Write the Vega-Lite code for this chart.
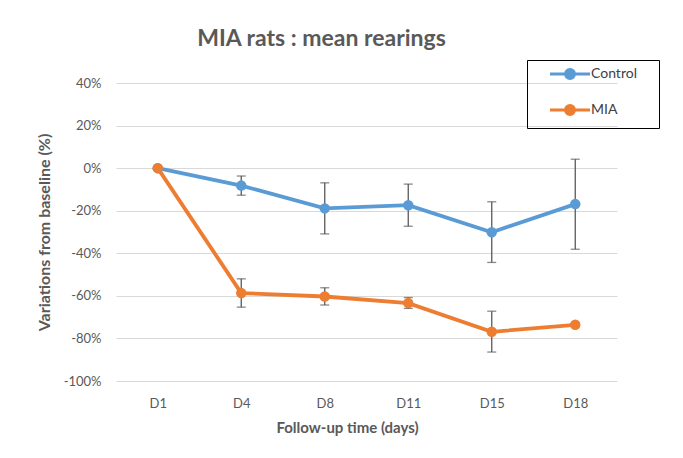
{
  "$schema": "https://vega.github.io/schema/vega-lite/v6.json",
  "width": 501,
  "height": 298,
  "autosize": {"type": "none"},
  "padding": {"left": 116, "top": 83, "right": 66, "bottom": 77},
  "background": "white",
  "config": {
    "font": "Lato",
    "view": {"stroke": null}
  },
  "title": {
    "text": "MIA rats : mean rearings",
    "fontSize": 23,
    "fontWeight": "bold",
    "color": "#595959",
    "font": "Lato",
    "anchor": "middle",
    "dx": -45,
    "offset": 9
  },
  "data": {
    "values": [
      {"day": "D1", "group": "Control", "value": 0, "lo": 0, "hi": 0},
      {"day": "D4", "group": "Control", "value": -8.2, "lo": -12.7, "hi": -3.7},
      {"day": "D8", "group": "Control", "value": -18.9, "lo": -30.9, "hi": -6.9},
      {"day": "D11", "group": "Control", "value": -17.4, "lo": -27.3, "hi": -7.5},
      {"day": "D15", "group": "Control", "value": -30.1, "lo": -44.3, "hi": -15.8},
      {"day": "D18", "group": "Control", "value": -16.9, "lo": -38.1, "hi": 4.2},
      {"day": "D1", "group": "MIA", "value": 0, "lo": 0, "hi": 0},
      {"day": "D4", "group": "MIA", "value": -58.7, "lo": -65.3, "hi": -52.0},
      {"day": "D8", "group": "MIA", "value": -60.3, "lo": -64.3, "hi": -56.2},
      {"day": "D11", "group": "MIA", "value": -63.4, "lo": -65.9, "hi": -60.8},
      {"day": "D15", "group": "MIA", "value": -76.9, "lo": -86.4, "hi": -67.2},
      {"day": "D18", "group": "MIA", "value": -73.6, "lo": -73.6, "hi": -73.6}
    ]
  },
  "encoding": {
    "x": {
      "field": "day",
      "type": "ordinal",
      "sort": ["D1", "D4", "D8", "D11", "D15", "D18"],
      "scale": {"type": "point", "padding": 0.5},
      "axis": {
        "title": "Follow-up time (days)",
        "titleFontSize": 15,
        "titleFontWeight": "bold",
        "titleColor": "#595959",
        "titlePadding": 10,
        "titleX": 231,
        "labelAngle": 0,
        "labelFontSize": 13,
        "labelColor": "#595959",
        "labelPadding": 16,
        "ticks": false,
        "domain": false,
        "grid": false
      }
    }
  },
  "layer": [
    {
      "mark": {"type": "rule", "color": "#595959", "strokeWidth": 1.3},
      "encoding": {
        "y": {"field": "lo", "type": "quantitative"},
        "y2": {"field": "hi"}
      }
    },
    {
      "mark": {"type": "tick", "color": "#595959", "thickness": 1.3, "size": 9},
      "encoding": {"y": {"field": "lo", "type": "quantitative"}}
    },
    {
      "mark": {"type": "tick", "color": "#595959", "thickness": 1.3, "size": 9},
      "encoding": {"y": {"field": "hi", "type": "quantitative"}}
    },
    {
      "mark": {"type": "line", "strokeWidth": 3.8, "point": {"size": 110, "filled": true, "opacity": 1}},
      "encoding": {
        "y": {
          "field": "value",
          "type": "quantitative",
          "scale": {"domain": [-100, 40], "nice": false},
          "axis": {
            "title": "Variations from baseline (%)",
            "titleFontSize": 16,
            "titleFontWeight": "bold",
            "titleColor": "#595959",
            "titlePadding": 11,
            "values": [-100, -80, -60, -40, -20, 0, 20, 40],
            "labelExpr": "datum.value + '%'",
            "labelFontSize": 13,
            "labelColor": "#595959",
            "labelPadding": 15,
            "ticks": false,
            "domain": false,
            "gridColor": "#D9D9D9",
            "gridWidth": 1.2
          }
        },
        "color": {
          "field": "group",
          "type": "nominal",
          "scale": {"domain": ["Control", "MIA"], "range": ["#5B9BD5", "#ED7D31"]},
          "legend": {
            "title": null,
            "orient": "none",
            "legendX": 411,
            "legendY": -23,
            "strokeColor": "black",
            "padding": 7,
            "labelFontSize": 14,
            "labelColor": "#404040",
            "labelExpr": "datum.label + '\u00a0\u00a0\u00a0\u00a0\u200b'",
            "symbolType": "M-4,0H4M0.9,0A0.9,0.9,0,1,1,-0.9,0A0.9,0.9,0,1,1,0.9,0",
            "symbolSize": 100,
            "symbolStrokeWidth": 3,
            "symbolOffset": 29,
            "labelOffset": 14,
            "rowPadding": 14,
            "encode": {
              "symbols": {
                "update": {
                  "fill": {"scale": "color", "field": "value"},
                  "stroke": {"scale": "color", "field": "value"},
                  "fillOpacity": {"value": 1}
                }
              }
            }
          }
        }
      }
    }
  ]
}
